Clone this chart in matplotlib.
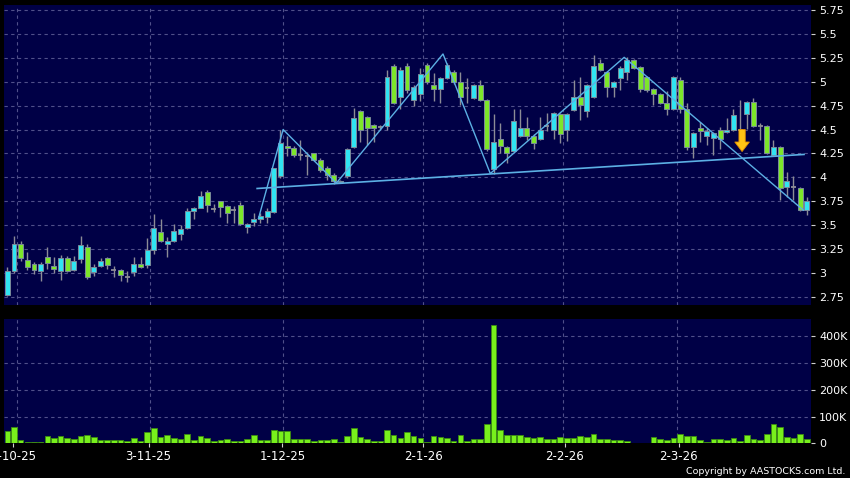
import matplotlib
matplotlib.use('Agg')
import matplotlib.pyplot as plt
from matplotlib.patches import Rectangle, FancyArrow
from matplotlib import font_manager as fm

# ---------------- data ----------------
opens = [2.77, 3.02, 3.30, 3.14, 3.09, 3.02, 3.17, 3.07, 3.02, 3.16,
         3.03, 3.15, 3.27, 3.01, 3.07, 3.16, 3.03, 3.03, 2.96, 3.01,
         3.09, 3.08, 3.24, 3.43, 3.30, 3.33, 3.41, 3.47, 3.65, 3.68,
         3.85, 3.67, 3.75, 3.70, 3.66, 3.71, 3.48, 3.53, 3.56, 3.59,
         3.64, 4.01, 4.33, 4.31, 4.23, 4.22, 4.25, 4.18, 4.10, 4.02,
         3.95, 4.01, 4.32, 4.69, 4.63, 4.55, 4.53, 4.54, 5.16, 4.84,
         5.16, 4.81, 4.87, 5.18, 4.97, 4.92, 5.04, 5.10, 5.00, 4.93,
         4.83, 4.97, 4.81, 4.09, 4.40, 4.32, 4.28, 4.43, 4.52, 4.43,
         4.40, 4.54, 4.50, 4.66, 4.50, 4.70, 4.84, 4.69, 4.84, 5.20,
         5.10, 4.95, 5.04, 5.10, 5.23, 5.15, 5.05, 4.92, 4.87, 4.78,
         4.71, 5.02, 4.71, 4.32, 4.52, 4.43, 4.41, 4.50, 4.47, 4.50,
         4.50, 4.66, 4.79, 4.54, 4.54, 4.23, 4.32, 3.90, 3.90, 3.89,
         3.66]
highs = [3.06, 3.39, 3.34, 3.22, 3.12, 3.12, 3.27, 3.17, 3.19, 3.18,
         3.18, 3.39, 3.30, 3.09, 3.16, 3.17, 3.07, 3.04, 3.02, 3.17,
         3.17, 3.37, 3.62, 3.56, 3.38, 3.51, 3.50, 3.68, 3.69, 3.86,
         3.87, 3.72, 3.75, 3.71, 3.70, 3.74, 3.52, 3.63, 3.63, 3.68,
         4.10, 4.50, 4.43, 4.33, 4.39, 4.27, 4.26, 4.20, 4.12, 4.05,
         3.97, 4.31, 4.73, 4.70, 4.64, 4.56, 4.55, 5.12, 5.19, 5.15,
         5.20, 4.97, 5.14, 5.20, 5.09, 5.05, 5.20, 5.12, 5.10, 5.04,
         4.98, 5.02, 4.82, 4.66, 4.57, 4.33, 4.72, 4.71, 4.63, 4.45,
         4.63, 4.67, 4.68, 4.67, 4.67, 5.02, 5.05, 4.98, 5.28, 5.24,
         5.11, 5.01, 5.16, 5.26, 5.24, 5.16, 5.06, 4.93, 4.88, 4.90,
         5.06, 5.05, 4.78, 4.47, 4.58, 4.52, 4.47, 4.53, 4.62, 4.72,
         4.81, 4.80, 4.83, 4.57, 4.55, 4.39, 4.33, 4.06, 4.01, 3.90,
         3.80]
lows = [2.76, 3.00, 3.13, 3.03, 2.99, 2.92, 3.04, 3.00, 2.93, 3.01,
        3.02, 3.10, 2.94, 2.97, 3.06, 3.04, 2.96, 2.92, 2.91, 2.97,
        3.05, 3.05, 3.20, 3.32, 3.17, 3.32, 3.35, 3.46, 3.56, 3.68,
        3.64, 3.64, 3.59, 3.52, 3.52, 3.50, 3.42, 3.49, 3.52, 3.52,
        3.63, 3.99, 4.22, 4.21, 4.18, 4.03, 4.17, 4.06, 3.97, 3.93,
        3.94, 3.99, 4.31, 4.37, 4.34, 4.37, 4.50, 4.50, 4.77, 4.72,
        4.88, 4.75, 4.80, 4.98, 4.80, 4.78, 5.03, 4.98, 4.76, 4.78,
        4.82, 4.80, 4.28, 4.04, 4.25, 4.15, 4.27, 4.42, 4.39, 4.30,
        4.39, 4.48, 4.40, 4.36, 4.38, 4.69, 4.60, 4.63, 4.83, 5.11,
        4.84, 4.84, 4.91, 5.02, 5.13, 4.89, 4.89, 4.76, 4.77, 4.65,
        4.70, 4.67, 4.29, 4.20, 4.37, 4.34, 4.23, 4.30, 4.46, 4.49,
        4.49, 4.51, 4.53, 4.39, 4.24, 4.22, 3.76, 3.80, 3.76, 3.65,
        3.61]
closes = [3.02, 3.30, 3.16, 3.06, 3.03, 3.09, 3.10, 3.04, 3.16, 3.02,
          3.13, 3.29, 2.96, 3.06, 3.13, 3.08, 3.03, 2.98, 2.96, 3.09,
          3.06, 3.24, 3.47, 3.33, 3.34, 3.44, 3.46, 3.65, 3.68, 3.81,
          3.71, 3.67, 3.69, 3.63, 3.66, 3.51, 3.51, 3.57, 3.60, 3.65,
          4.10, 4.36, 4.31, 4.23, 4.23, 4.22, 4.18, 4.08, 4.02, 3.96,
          3.96, 4.30, 4.62, 4.50, 4.52, 4.52, 4.53, 5.05, 4.78, 5.12,
          4.91, 4.94, 5.08, 5.00, 4.92, 5.04, 5.17, 5.00, 4.84, 4.93,
          4.97, 4.81, 4.30, 4.37, 4.33, 4.26, 4.59, 4.52, 4.43, 4.36,
          4.50, 4.54, 4.67, 4.45, 4.66, 4.84, 4.76, 4.97, 5.16, 5.12,
          4.95, 5.00, 5.14, 5.23, 5.14, 4.92, 4.91, 4.87, 4.78, 4.71,
          5.05, 4.71, 4.32, 4.46, 4.49, 4.48, 4.46, 4.40, 4.50, 4.65,
          4.50, 4.79, 4.54, 4.54, 4.25, 4.32, 3.89, 3.96, 3.90, 3.66,
          3.75]
volumes_k = [46, 61, 11, 3, 3, 3, 26, 20, 27, 20,
             17, 27, 31, 25, 11, 11, 11, 12, 10, 20,
             10, 41, 57, 24, 30, 21, 17, 34, 12, 27,
             21, 9, 12, 16, 9, 9, 15, 31, 12, 11,
             50, 46, 47, 15, 16, 16, 10, 14, 11, 16,
             5, 26, 57, 24, 15, 10, 9, 51, 30, 20,
             41, 29, 20, 3, 27, 22, 18, 9, 30, 10,
             15, 17, 73, 442, 51, 30, 30, 30, 24, 20,
             24, 17, 16, 24, 20, 18, 26, 22, 34, 16,
             16, 12, 12, 9, 2, 2, 1, 24, 17, 14,
             18, 35, 27, 27, 11, 5, 16, 15, 11, 18,
             10, 32, 16, 11, 34, 73, 62, 25, 20, 34,
             16]

date_labels = ['2-10-25', '3-11-25', '1-12-25', '2-1-26', '2-2-26', '2-3-26']
date_label_pos = [0.9, 21.2, 41.3, 62.4, 83.7, 100.8]
grid_pos = [1.5, 21.4, 41.4, 62.4, 83.4, 100.5]

price_ticks = [2.75, 3.0, 3.25, 3.5, 3.75, 4.0, 4.25, 4.5, 4.75, 5.0, 5.25, 5.5, 5.75]
price_tick_labels = ['2.75', '3', '3.25', '3.5', '3.75', '4', '4.25', '4.5', '4.75',
                     '5', '5.25', '5.5', '5.75']
vol_ticks = [0, 100, 200, 300, 400]
vol_tick_labels = ['0', '100K', '200K', '300K', '400K']

zigzag_x = [37.7, 41.4, 49.4, 65.4, 72.5, 92.6, 119.5]
zigzag_y = [3.57, 4.50, 3.94, 5.29, 4.04, 5.255, 3.657]
neck_x = [37.5, 119.6]
neck_y = [3.884, 4.24]
arrow_x = 110.3
arrow_top = 4.50
arrow_tip = 4.27

# ---------------- style ----------------
BG = '#000046'
UP = '#30e4f2'
DOWN = '#7de62a'
WICK = '#8c8c96'
GRID = '#50508a'
LINE = '#5cb0e4'
VOL = '#78f01c'
VOL_EDGE = '#3c8c12'

fig = plt.figure(figsize=(8.5, 4.78), dpi=100, facecolor='black')
W, H = 850.0, 478.0
left, right = 4 / W, 810.7 / W
ax = fig.add_axes([left, 1 - 305 / H, right - left, 300 / H])
axv = fig.add_axes([left, 1 - 443.3 / H, right - left, (443.3 - 319.3) / H])

for a in (ax, axv):
    a.set_facecolor(BG)
    for s in a.spines.values():
        s.set_visible(False)
    a.set_xlim(-0.5, 120.6)
    for g in grid_pos:
        a.axvline(g, color=GRID, lw=0.8, ls=(0, (3, 3)), zorder=0)

ax.set_ylim(2.666, 5.802)
axv.set_ylim(0, 464)

# price axis
ax.yaxis.tick_right()
ax.set_yticks(price_ticks)
ax.set_yticklabels(price_tick_labels)
ax.tick_params(axis='y', colors='#d0d0d0', labelcolor='white', length=3, width=0.8,
               pad=3, labelsize=8)
ax.tick_params(axis='x', length=0, labelbottom=False)
for t in price_ticks:
    ax.axhline(t, color=GRID, lw=0.8, ls=(0, (3, 3)), zorder=0)

# candles
bw = 0.74
for i in range(len(opens)):
    o, h, l, c = opens[i], highs[i], lows[i], closes[i]
    ax.vlines(i, l, h, color=WICK, lw=1.0, zorder=2)
    if abs(c - o) < 0.005:
        ax.hlines(o, i - bw / 2, i + bw / 2, color=WICK, lw=1.3, zorder=3)
    else:
        col = UP if c > o else DOWN
        ax.add_patch(Rectangle((i - bw / 2, min(o, c)), bw, abs(c - o),
                               facecolor=col, edgecolor='#7a8a9a', lw=0.7, zorder=3))

ax.plot(zigzag_x, zigzag_y, color=LINE, lw=1.0, zorder=4)
ax.plot(neck_x, neck_y, color=LINE, lw=1.2, zorder=4)
ax.add_patch(FancyArrow(arrow_x, arrow_top, 0, arrow_tip - arrow_top, width=0.95,
                        head_width=2.2, head_length=0.1, length_includes_head=True,
                        facecolor='#ffc414', edgecolor='#e08a00', lw=0.6, zorder=6))

# volume
axv.bar(range(len(volumes_k)), volumes_k, width=0.84, color=VOL, edgecolor=VOL_EDGE,
        linewidth=0.6, zorder=3)
axv.yaxis.tick_right()
axv.set_yticks(vol_ticks)
axv.set_yticklabels(vol_tick_labels)
for t in vol_ticks[1:]:
    axv.axhline(t, color=GRID, lw=0.8, ls=(0, (3, 3)), zorder=0)
axv.tick_params(axis='y', colors='#d0d0d0', labelcolor='white', length=3, width=0.8,
                pad=3, labelsize=8)
axv.set_xticks(date_label_pos)
axv.set_xticklabels(date_labels)
axv.tick_params(axis='x', colors='#d0d0d0', labelcolor='white', length=3, width=0.8,
                pad=2, labelsize=8.5)

names = {f.name for f in fm.fontManager.ttflist}
if 'Liberation Sans Narrow' in names:
    cfam, csize = 'Liberation Sans Narrow', 9
else:
    cfam, csize = 'DejaVu Sans', 6.8
fig.text(845 / W, 1 - 471 / H, 'Copyright by AASTOCKS.com Ltd.', ha='right', va='center',
         color='white', fontsize=csize, family=cfam)

fig.savefig('out.png', dpi=100, facecolor='black')
